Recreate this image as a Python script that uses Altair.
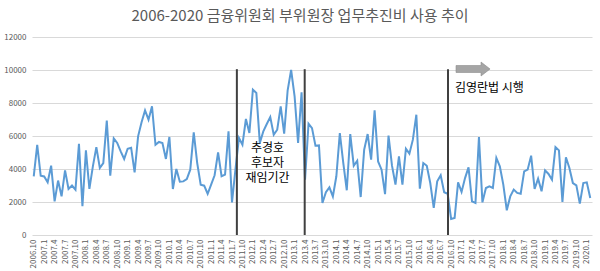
import json
import altair as alt
import pandas as pd

# Monthly spending, 2006.10 .. 2020.2 (161 months)
values = [
    3550, 5470, 3600, 3550, 3200, 4200, 2040, 3300, 2340, 3920,
    2790, 3000, 2750, 5530, 1740, 5130, 2790, 4160, 5330, 4060,
    4360, 6930, 3600, 5860, 5580, 5070, 4610, 5230, 5290, 3800,
    5980, 6830, 7550, 6990, 7800, 5470, 5640, 5580, 4610, 5940,
    2790, 4000, 3230, 3250, 3390, 3960, 6220, 4360, 3050, 2990,
    2500, 3050, 3620, 5010, 3560, 3660, 6280, 1980, 4000, 5880,
    5470, 7030, 6180, 8810, 8610, 5580, 6280, 6730, 7150, 6080,
    6380, 7800, 6140, 8770, 10000, 8400, 5580, 8650, 3350, 6750,
    6480, 5410, 5430, 1940, 2590, 2890, 2340, 3560, 6180, 4360,
    2710, 6120, 4200, 4500, 2300, 5170, 6120, 4570, 7550, 4460,
    3960, 2480, 6020, 4200, 3050, 4770, 3050, 5230, 4930, 5780,
    7290, 2810, 4360, 4200, 3150, 1640, 3250, 3620, 2590, 2500,
    970, 1030, 3190, 2610, 3450, 4100, 2040, 1940, 5940, 1980,
    2850, 2950, 2850, 4670, 4160, 3050, 1500, 2340, 2750, 2550,
    2500, 3860, 3960, 4810, 2790, 3410, 2650, 3920, 3700, 3350,
    5330, 5130, 2000, 4710, 4060, 3150, 3010, 1900, 3150, 3190,
    2240,
]

tick_labels = [
    "2006.10", "2007.1", "2007.4", "2007.7", "2007.10", "2008.1", "2008.4", "2008.7",
    "2008.10", "2009.1", "2009.4", "2009.7", "2009.10", "2010.1", "2010.4", "2010.7",
    "2010.10", "2011.1", "2011.4", "2011.7", "2011.10", "2012.1", "2012.4", "2012.7",
    "2012.10", "2013.1", "2013.4", "2013.7", "2013.10", "2014.1", "2014.4", "2014.7",
    "2014.10", "2015.1", "2015.4", "2015.7", "2015.10", "2016.1", "2016.4", "2016.7",
    "2016.10", "2017.1", "2017.4", "2017.7", "2017.10", "2018.1", "2018.4", "2018.7",
    "2018.10", "2019.1", "2019.4", "2019.7", "2019.10", "2020.1",
]
tick_idx = [3 * k for k in range(len(tick_labels))]

y_ticks = [0, 2000, 4000, 6000, 8000, 10000, 12000]

# event markers (month index positions)
marker_idx = [58.4, 77.9, 119.1]
marker_top = [10050, 10050, 10050]

title_text = "2006-2020 금융위원회 부위원장 업무추진비 사용 추이"
note1_text = "추경호\n후보자\n재임기간"
note2_text = "김영란법 시행"

FONT = "Noto Sans CJK KR"
GRAY = "#595959"

df = pd.DataFrame({"idx": list(range(len(values))), "value": values})
rule_df = pd.DataFrame({"idx": marker_idx, "y0": [0] * len(marker_idx), "y1": marker_top})

label_expr = json.dumps(tick_labels) + "[round(datum.value / 3)]"

x_scale = alt.Scale(domain=[-0.5, len(values) - 0.5], nice=False, zero=False)
y_scale = alt.Scale(domain=[0, 12000], nice=False)

x_axis = alt.Axis(
    values=tick_idx,
    labelExpr=label_expr,
    labelAngle=270,
    labelFontSize=8,
    labelColor=GRAY,
    labelFont=FONT,
    labelPadding=4,
    labelOverlap=False,
    labelFlush=False,
    grid=False,
    ticks=False,
    domain=False,
    title=None,
)
y_axis = alt.Axis(
    values=y_ticks,
    format="d",
    grid=True,
    gridColor="#d9d9d9",
    gridWidth=1,
    ticks=False,
    domain=False,
    labelOverlap=False,
    labelFlush=False,
    labelFontSize=8,
    labelColor=GRAY,
    labelFont=FONT,
    labelPadding=6,
    title=None,
)

line = alt.Chart(df).mark_line(color="#5b9bd5", strokeWidth=2).encode(
    x=alt.X("idx:Q", scale=x_scale, axis=x_axis),
    y=alt.Y("value:Q", scale=y_scale, axis=y_axis),
)

rules = alt.Chart(rule_df).mark_rule(color="#404040", strokeWidth=2).encode(
    x=alt.X("idx:Q", scale=x_scale, axis=x_axis),
    y=alt.Y("y0:Q", scale=y_scale, axis=y_axis),
    y2="y1:Q",
)

note1 = alt.Chart(pd.DataFrame({"idx": [67.2], "v": [5255], "t": [note1_text]})).mark_text(
    font=FONT, fontSize=12, color="#000000", lineBreak="\n", lineHeight=15,
    align="center", baseline="middle",
).encode(x=alt.X("idx:Q", scale=x_scale, axis=x_axis),
         y=alt.Y("v:Q", scale=y_scale, axis=y_axis), text="t:N")

note2 = alt.Chart(pd.DataFrame({"idx": [121.1], "v": [8890], "t": [note2_text]})).mark_text(
    font=FONT, fontSize=12, color="#000000", align="left", baseline="middle",
).encode(x=alt.X("idx:Q", scale=x_scale, axis=x_axis),
         y=alt.Y("v:Q", scale=y_scale, axis=y_axis), text="t:N")

arrow_path = "M-1,-0.206L0.47,-0.206L0.47,-0.41L1,0L0.47,0.41L0.47,0.206L-1,0.206Z"
arrow = alt.Chart(pd.DataFrame({"idx": [126.3], "v": [10060]})).mark_point(
    shape=arrow_path, size=1156, filled=True, fill="#a5a5a5", stroke="#8c8c8c",
    strokeWidth=0.6, opacity=1,
).encode(x=alt.X("idx:Q", scale=x_scale, axis=x_axis),
         y=alt.Y("v:Q", scale=y_scale, axis=y_axis))

title = alt.Chart(pd.DataFrame({"t": [title_text]})).mark_text(
    font=FONT, fontSize=15, color=GRAY, align="center", baseline="middle",
).encode(x=alt.value(268), y=alt.value(-21), text="t:N")

chart = alt.layer(line, rules, note1, note2, arrow, title).properties(
    width=560,
    height=198,
    background="white",
    autosize=alt.AutoSizeParams(type="none"),
    padding={"left": 32, "top": 37, "right": 8, "bottom": 36},
).configure_view(stroke=None).configure_axis(labelOverlap=False, labelFlush=False)

chart.save("out.html", embed_options={"renderer": "svg", "actions": False})
